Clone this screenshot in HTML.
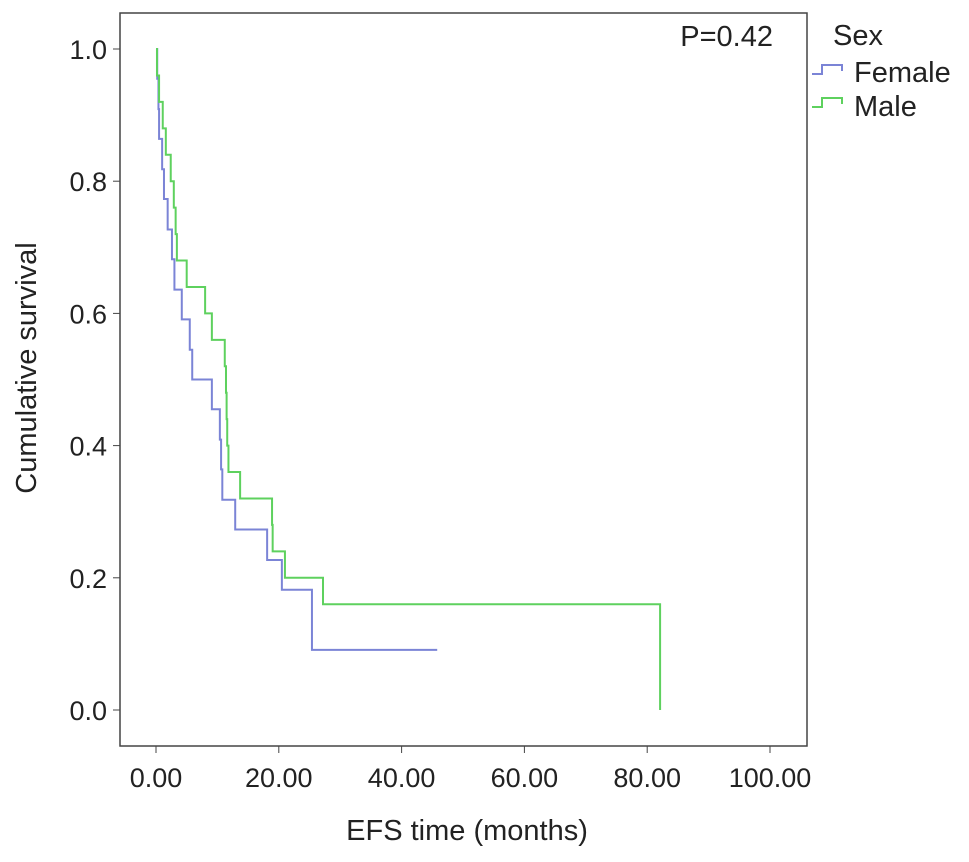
<!DOCTYPE html>
<html><head><meta charset="utf-8"><style>
body{margin:0;background:#fff;}
svg text{font-family:"Liberation Sans",Arial,sans-serif;fill:#222;}
</style></head><body>
<svg id="chart" width="969" height="857" xmlns="http://www.w3.org/2000/svg">
<rect x="120" y="13" width="687" height="733" fill="none" stroke="#444" stroke-width="1.5"/>
<g id="axes"></g>
<g id="series"></g>
<text x="773" y="30" font-size="29" text-anchor="end" dominant-baseline="hanging" transform="translate(0,-4)">P=0.42</text>
<text x="833" y="45" font-size="29">Sex</text>
<path d="M812 74 H822 V65 H842 V71" fill="none" stroke="#7b84d6" stroke-width="2"/>
<text x="854" y="82" font-size="29">Female</text>
<path d="M812 107 H822 V98 H842 V104" fill="none" stroke="#5ed15e" stroke-width="2"/>
<text x="854" y="116" font-size="29">Male</text>
<text x="467" y="840" font-size="29" text-anchor="middle">EFS time (months)</text>
<text transform="translate(36,368) rotate(-90)" font-size="29" text-anchor="middle">Cumulative survival</text>
</svg>
<script>
const xTicks=[0,20,40,60,80,100];
const xTickLabels=["0.00","20.00","40.00","60.00","80.00","100.00"];
const yTicks=[0,0.2,0.4,0.6,0.8,1.0];
const yTickLabels=["0.0","0.2","0.4","0.6","0.8","1.0"];
const femaleTimes=[0.2,0.4,0.5,1.0,1.3,1.9,2.6,3.0,4.2,5.5,5.9,9.1,10.4,10.6,10.8,12.9,18.1,20.5,25.4];
const femaleSurv=[0.955,0.909,0.864,0.818,0.773,0.727,0.682,0.636,0.591,0.545,0.5,0.455,0.409,0.364,0.318,0.273,0.227,0.182,0.091];
const femaleEnd=45.8;
const maleTimes=[0.16,0.5,1.1,1.6,2.4,2.9,3.2,3.4,5.0,8.0,9.1,11.2,11.4,11.5,11.6,11.8,13.7,18.9,19.0,21.0,27.2,82.1];
const maleSurv=[0.96,0.92,0.88,0.84,0.80,0.76,0.72,0.68,0.64,0.60,0.56,0.52,0.48,0.44,0.40,0.36,0.32,0.28,0.24,0.20,0.16,0];
const NS="http://www.w3.org/2000/svg";
const X=t=>156+t*6.14;
const Y=s=>710-s*661;
const axes=document.getElementById('axes');
xTicks.forEach((t,i)=>{
 const l=document.createElementNS(NS,'line');
 l.setAttribute('x1',X(t));l.setAttribute('x2',X(t));l.setAttribute('y1',746);l.setAttribute('y2',753);l.setAttribute('stroke','#444');
 
 
 axes.appendChild(l);
 const tx=document.createElementNS(NS,'text');
 tx.setAttribute('x',X(t));tx.setAttribute('y',787);tx.setAttribute('font-size','27');tx.setAttribute('text-anchor','middle');
 tx.textContent=xTickLabels[i];
 
 
 axes.appendChild(tx);
});
yTicks.forEach((s,i)=>{
 const l=document.createElementNS(NS,'line');
 l.setAttribute('x1',113);l.setAttribute('x2',120);l.setAttribute('y1',Y(s));l.setAttribute('y2',Y(s));l.setAttribute('stroke','#444');
 
 
 axes.appendChild(l);
 const tx=document.createElementNS(NS,'text');
 tx.setAttribute('x',107);tx.setAttribute('y',Y(s)+10);tx.setAttribute('font-size','27');tx.setAttribute('text-anchor','end');
 tx.textContent=yTickLabels[i];
 
 
 axes.appendChild(tx);
});
function stepPath(times,surv,end){
 let d='M'+X(0)+' '+Y(1);
 times.forEach((t,i)=>{d+=' H'+X(t)+' V'+Y(surv[i]);});
 if(end!==undefined)d+=' H'+X(end);
 return d;
}
const ser=document.getElementById('series');
const f=document.createElementNS(NS,'path');
f.setAttribute('d',stepPath(femaleTimes,femaleSurv,femaleEnd));
f.setAttribute('fill','none');f.setAttribute('stroke','#7b84d6');f.setAttribute('stroke-width','2');


ser.appendChild(f);
const m=document.createElementNS(NS,'path');
m.setAttribute('d',stepPath(maleTimes,maleSurv));
m.setAttribute('fill','none');m.setAttribute('stroke','#5ed15e');m.setAttribute('stroke-width','2');


ser.appendChild(m);
</script>
</body></html>
